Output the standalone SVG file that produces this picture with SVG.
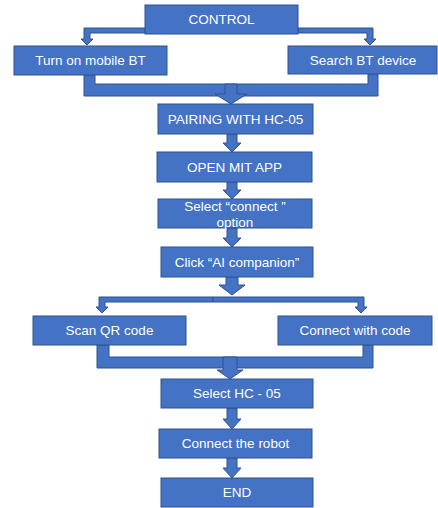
<svg xmlns="http://www.w3.org/2000/svg" width="438" height="508" viewBox="0 0 438 508">
<style>
.box{fill:#4472C4;stroke:#2F528F;stroke-width:1}
.con{fill:#4472C4;stroke:#2F528F;stroke-width:1;stroke-linejoin:miter}
text{font-family:"Liberation Sans",Arial,sans-serif;font-size:13.5px;fill:#ffffff;text-anchor:middle}
</style>
<rect width="438" height="508" fill="#ffffff"/>
<g id="connectors">
<polygon class="con" points="145,28 84,28 84,39 81,39 87,45 93,39 90,39 90,33 145,33"/>
<polygon class="con" points="298,28 373,28 373,39 376,39 370,45 364,39 367,39 367,33 298,33"/>
<polygon class="con" points="84,75 95,75 95,84 231,84 231,96 84,96"/>
<polygon class="con" points="368,74 378,74 378,96 231,96 231,84 368,84"/>
<polygon class="con" points="225,84 237,84 237,94 247,94 231,104 215,94 225,94"/>
<polygon class="con" points="227,134 237,134 237,143 241,143 232,152 223,143 227,143"/>
<polygon class="con" points="227,182 237,182 237,190 241,190 232,199 223,190 227,190"/>
<polygon class="con" points="227,228 237,228 237,238 241,238 232,247 223,238 227,238"/>
<polygon class="con" points="226,277 238,277 238,285 245,285 232,295 219,285 226,285"/>
<polygon class="con" points="213,297 99,297 99,307 96,307 102,313 108,307 105,307 105,302 213,302"/>
<polygon class="con" points="213,297 364,297 364,307 367,307 361,313 355,307 358,307 358,302 213,302"/>
<polygon class="con" points="97,345 109,345 109,357 230,357 230,368 97,368"/>
<polygon class="con" points="363,345 373,345 373,368 230,368 230,357 363,357"/>
<polygon class="con" points="223,357 237,357 237,370 243,370 230,379 217,370 223,370"/>
<polygon class="con" points="227,408 237,408 237,419 241,419 232,429 223,419 227,419"/>
<polygon class="con" points="227,458 237,458 237,468 241,468 232,478 223,468 227,468"/>
</g>
<g id="n-control"><rect class="box" x="145" y="5" width="153" height="29"/><text x="221.5" y="24.3">CONTROL</text></g>
<g id="n-turnon"><rect class="box" x="14" y="46" width="153" height="29"/><text x="90.5" y="65.3">Turn on mobile BT</text></g>
<g id="n-search"><rect class="box" x="288" y="46" width="149" height="28"/><text x="363" y="64.8">Search BT device</text></g>
<g id="n-pairing"><rect class="box" x="158" y="104" width="155" height="30"/><text x="235.5" y="123.8">PAIRING WITH HC-05</text></g>
<g id="n-openmit"><rect class="box" x="157" y="152" width="155" height="30"/><text x="234.5" y="171.8">OPEN MIT APP</text></g>
<g id="n-select"><rect class="box" x="158" y="199" width="154" height="29"/><text x="235" y="211">Select “connect ”</text><text x="235" y="226.5">option</text></g>
<g id="n-click"><rect class="box" x="161" y="247" width="152" height="30"/><text x="237" y="266.8">Click “AI companion”</text></g>
<g id="n-scan"><rect class="box" x="33" y="316" width="153" height="29"/><text x="109.5" y="335.3">Scan QR code</text></g>
<g id="n-connectcode"><rect class="box" x="278" y="316" width="154" height="29"/><text x="355" y="335.3">Connect with code</text></g>
<g id="n-selecthc"><rect class="box" x="161" y="379" width="152" height="29"/><text x="237" y="398.3">Select HC - 05</text></g>
<g id="n-robot"><rect class="box" x="159" y="429" width="153" height="29"/><text x="235.5" y="448.3">Connect the robot</text></g>
<g id="n-end"><rect class="box" x="161" y="478" width="152" height="29"/><text x="237" y="497.3">END</text></g>
</svg>
